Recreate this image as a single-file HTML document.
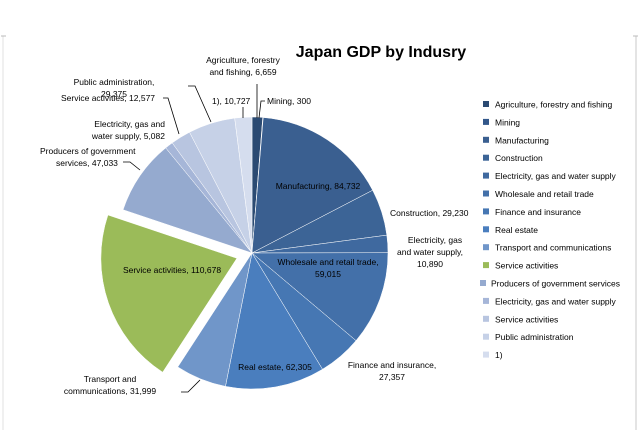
<!DOCTYPE html>
<html><head><meta charset="utf-8"><style>
body{margin:0;background:#fff;}
svg{display:block;font-family:"Liberation Sans",sans-serif;}
</style></head><body>
<svg id="chart" width="640" height="430" viewBox="0 0 640 430">
<line x1="3" y1="36" x2="3" y2="430" stroke="#e0e0e0"/>
<line x1="636" y1="36" x2="636" y2="430" stroke="#c8c8c8"/>
<line x1="1" y1="36" x2="6" y2="36" stroke="#bbb"/>
<line x1="633" y1="36" x2="638" y2="36" stroke="#bbb"/>
<text x="381" y="57" text-anchor="middle" font-size="16" font-weight="bold" fill="#000">Japan GDP by Indusry</text>
<g id="slices"></g>
<g id="leaders" stroke="#000" stroke-width="0.8" fill="none">
<polyline points="257,118 257,84"/>
<polyline points="259,118 261,101 265,101"/>
<polyline points="243,118 243,107"/>
<polyline points="211,122 195,86 188,86"/>
<polyline points="179,134 168,98 163,98"/>
<polyline points="140,170 130,162 123,162"/>
<polyline points="200,380 188,392 181,392"/>
</g>
<g id="labels" font-size="8.5" fill="#000">
<text x="243" y="63" text-anchor="middle">Agriculture, forestry</text>
<text x="243" y="75" text-anchor="middle">and fishing, 6,659</text>
<text x="267" y="104">Mining, 300</text>
<text x="212" y="104">1), 10,727</text>
<text x="114" y="85" text-anchor="middle">Public administration,</text>
<text x="114" y="97" text-anchor="middle">29,375</text>
<text x="61" y="101">Service activities, 12,577</text>
<text x="165" y="127" text-anchor="end">Electricity, gas and</text>
<text x="165" y="139" text-anchor="end">water supply, 5,082</text>
<text x="40" y="154">Producers of government</text>
<text x="56" y="166">services, 47,033</text>
<text x="318" y="189" text-anchor="middle">Manufacturing, 84,732</text>
<text x="390" y="216">Construction, 29,230</text>
<text x="435" y="243" text-anchor="middle">Electricity, gas</text>
<text x="430" y="255" text-anchor="middle">and water supply,</text>
<text x="430" y="267" text-anchor="middle">10,890</text>
<text x="328" y="265" text-anchor="middle">Wholesale and retail trade,</text>
<text x="328" y="277" text-anchor="middle">59,015</text>
<text x="172" y="273" text-anchor="middle">Service activities, 110,678</text>
<text x="392" y="368" text-anchor="middle">Finance and insurance,</text>
<text x="392" y="380" text-anchor="middle">27,357</text>
<text x="275" y="370" text-anchor="middle">Real estate, 62,305</text>
<text x="110" y="382" text-anchor="middle">Transport and</text>
<text x="110" y="394" text-anchor="middle">communications, 31,999</text>
</g>
<g id="legend" font-size="8.5" fill="#000"></g>
</svg>
<script>
const categories=["Agriculture, forestry and fishing","Mining","Manufacturing","Construction","Electricity, gas and water supply","Wholesale and retail trade","Finance and insurance","Real estate","Transport and communications","Service activities","Producers of government services","Electricity, gas and water supply","Service activities","Public administration","1)"];
const values=[6659,300,84732,29230,10890,59015,27357,62305,31999,110678,47033,5082,12577,29375,10727];
const colors=["#2b4a72","#32578a","#3a5f90","#3c6496","#3f699f","#4370a9","#4677b3","#4a7ebe","#7096c9","#9bbb59","#95aacf","#a6b6d8","#b8c5e0","#c6d1e7","#d5ddee"];
const exploded=[false,false,false,false,false,false,false,false,false,true,false,false,false,false,false];
const NS="http://www.w3.org/2000/svg";
const cx=252,cy=253,R=136;
const total=values.reduce((a,b)=>a+b,0);
function pt(a,r,ox,oy){return [ox+r*Math.sin(a),oy-r*Math.cos(a)];}
const g=document.getElementById('slices');
let acc=0;
values.forEach((v,i)=>{
  const a0=acc/total*2*Math.PI; acc+=v; const a1=acc/total*2*Math.PI;
  let ox=cx,oy=cy;
  if(exploded[i]){const m=(a0+a1)/2;ox+=16*Math.sin(m);oy-=16*Math.cos(m);}
  const p0=pt(a0,R,ox,oy),p1=pt(a1,R,ox,oy);
  const large=(a1-a0)>Math.PI?1:0;
  const p=document.createElementNS(NS,'path');
  p.setAttribute('d',`M${ox},${oy}L${p0[0]},${p0[1]}A${R},${R} 0 ${large} 1 ${p1[0]},${p1[1]}Z`);
  p.setAttribute('fill',colors[i]);
  p.setAttribute('stroke','#fff');
  p.setAttribute('stroke-width','0.5');
  
  
  g.appendChild(p);
});
const lg=document.getElementById('legend');
categories.forEach((c,i)=>{
  const y=106+i*17.9;
  const r=document.createElementNS(NS,'rect');
  r.setAttribute('x',i===10?480:483);r.setAttribute('y',y-5);r.setAttribute('width',6);r.setAttribute('height',6);
  r.setAttribute('fill',colors[i]);
  
  
  lg.appendChild(r);
  const t=document.createElementNS(NS,'text');
  t.setAttribute('x',i===10?491:495);t.setAttribute('y',y+1.5);
  t.textContent=c;
  
  
  lg.appendChild(t);
});
</script>
</body></html>
